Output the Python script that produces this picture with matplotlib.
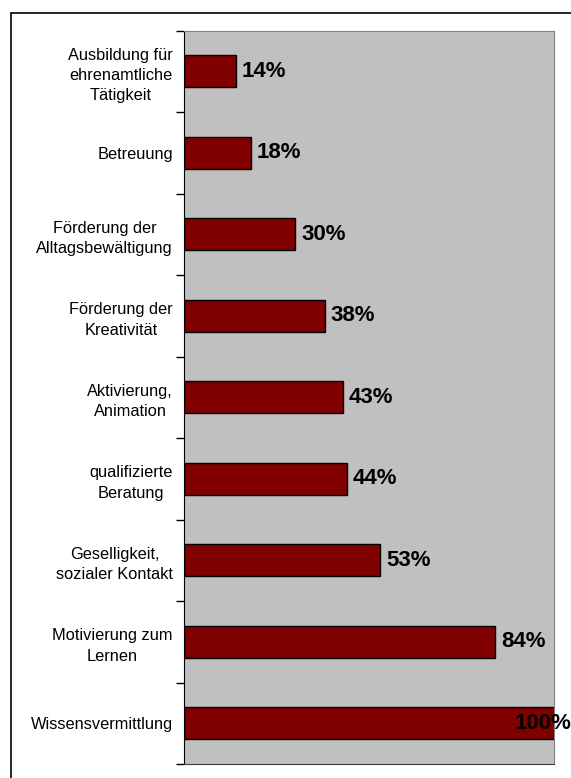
import matplotlib.pyplot as plt
from matplotlib.patches import Rectangle
import numpy as np

# Kategorien von oben nach unten
categories = [
    "Ausbildung für\nehrenamtliche\nTätigkeit",
    "Betreuung",
    "Förderung der\nAlltagsbewältigung",
    "Förderung der\nKreativität",
    "Aktivierung,\nAnimation",
    "qualifizierte\nBeratung",
    "Geselligkeit,\nsozialer Kontakt",
    "Motivierung zum\nLernen",
    "Wissensvermittlung",
]
values = [14, 18, 30, 38, 43, 44, 53, 84, 100]

plt.rcParams['font.family'] = ['Liberation Sans', 'DejaVu Sans']

fig = plt.figure(figsize=(5.71, 7.78), dpi=100)
fig.patch.set_facecolor('white')

# Rahmen um das Diagramm
fig.add_artist(Rectangle((11 / 571, -0.1), 1.0, 1 - 13.5 / 778 + 0.1,
                         transform=fig.transFigure, fill=False,
                         edgecolor='black', linewidth=1.2))

ax = fig.add_axes([184 / 571, 1 - 764 / 778, 370 / 571, (764 - 30.5) / 778])
ax.set_facecolor('#c0c0c0')

y = np.arange(len(categories))
ax.barh(y, values, height=0.39, color='#800000', edgecolor='black', linewidth=1.0)

ax.set_xlim(0, 100)
ax.set_ylim(len(categories) - 0.5, -0.5)

for i, v in enumerate(values):
    if v >= 100:
        ax.annotate(f"{v}%", (v, i), xytext=(18, 0), textcoords='offset pixels',
                    ha='right', va='center', fontsize=16, fontweight='bold')
    else:
        ax.annotate(f"{v}%", (v, i), xytext=(6, 0), textcoords='offset pixels',
                    ha='left', va='center', fontsize=16, fontweight='bold')

ax.set_yticks(y)
ax.set_yticklabels(categories, fontsize=11.8, multialignment='center', linespacing=1.45)
ax.tick_params(axis='y', which='major', length=0, pad=8)
ax.set_yticks(np.arange(len(categories) + 1) - 0.5, minor=True)
ax.tick_params(axis='y', which='minor', length=6, width=1, direction='out')
ax.set_xticks([])

for side in ['top', 'right']:
    ax.spines[side].set_color('#808080')
ax.spines['bottom'].set_color('#404040')
ax.spines['left'].set_color('black')

fig.savefig('out.png', dpi=100)
